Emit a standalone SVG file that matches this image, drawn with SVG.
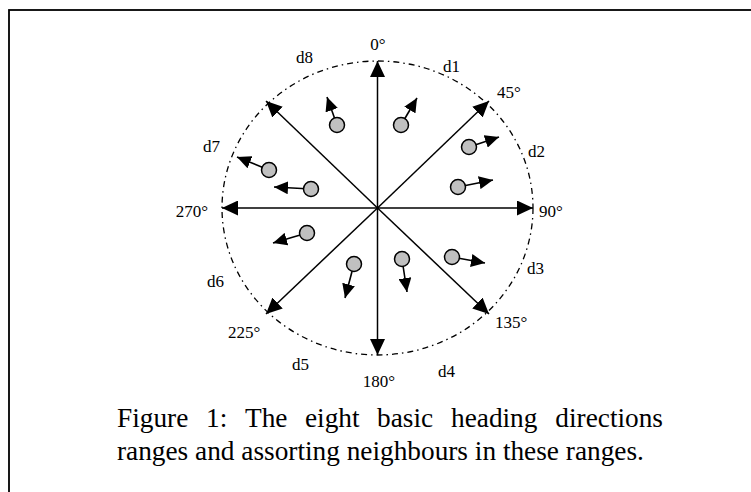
<svg xmlns="http://www.w3.org/2000/svg" width="751" height="492" viewBox="0 0 751 492">
<style>
.lbl{font-family:"Liberation Serif","Times New Roman",serif;font-size:17px;fill:#000}
.cap{font-family:"Liberation Serif","Times New Roman",serif;font-size:27.3px;fill:#000}
.axis{stroke:#000;stroke-width:1.5;fill:none;marker-end:url(#big)}
.mv{stroke:#000;stroke-width:1.6;fill:none;marker-end:url(#small)}
.nb{fill:#c0c0c0;stroke:#000;stroke-width:1.5}
</style>
<defs>
<marker id="big" markerUnits="userSpaceOnUse" viewBox="0 0 16 15" markerWidth="16" markerHeight="15" refX="16" refY="7.5" orient="auto">
<path d="M0,0 L16,7.5 L0,15 Z" fill="#000"/>
</marker>
<marker id="small" markerUnits="userSpaceOnUse" viewBox="0 0 14 13" markerWidth="14" markerHeight="13" refX="14" refY="6.5" orient="auto">
<path d="M0,0 L14,6.5 L0,13 Z" fill="#000"/>
</marker>
</defs>
<rect width="751" height="492" fill="#fff"/>
<rect id="frame" x="9" y="10" width="760" height="500" fill="none" stroke="#000" stroke-width="1.8"/>
<ellipse id="range-circle" cx="377.5" cy="208" rx="155.5" ry="147" fill="none" stroke="#000" stroke-width="1.3" stroke-dasharray="6 4 1.5 4"/>
<g id="connectors">
<line class="axis" x1="377.5" y1="208" x2="377.5" y2="61"/>
<line class="axis" x1="377.5" y1="208" x2="489" y2="101"/>
<line class="axis" x1="377.5" y1="208" x2="533" y2="208"/>
<line class="axis" x1="377.5" y1="208" x2="489" y2="314"/>
<line class="axis" x1="377.5" y1="208" x2="377.5" y2="355"/>
<line class="axis" x1="377.5" y1="208" x2="266" y2="314"/>
<line class="axis" x1="377.5" y1="208" x2="222" y2="208"/>
<line class="axis" x1="377.5" y1="208" x2="266" y2="101"/>
<line class="mv" x1="337" y1="125" x2="327" y2="97"/>
<line class="mv" x1="401" y1="125" x2="417" y2="98"/>
<line class="mv" x1="469" y1="147" x2="499" y2="137"/>
<line class="mv" x1="458" y1="187" x2="493" y2="180"/>
<line class="mv" x1="452" y1="257" x2="485" y2="263"/>
<line class="mv" x1="402" y1="259" x2="407" y2="292"/>
<line class="mv" x1="354" y1="264" x2="345" y2="298"/>
<line class="mv" x1="307" y1="233" x2="273" y2="243"/>
<line class="mv" x1="269" y1="170" x2="237" y2="157"/>
<line class="mv" x1="311" y1="189" x2="274" y2="187"/>
</g>
<g id="n-d8"><circle class="nb" cx="337" cy="125" r="7.5"/></g>
<g id="n-d1"><circle class="nb" cx="401" cy="125" r="7.5"/></g>
<g id="n-d2a"><circle class="nb" cx="469" cy="147" r="7.5"/></g>
<g id="n-d2b"><circle class="nb" cx="458" cy="187" r="7.5"/></g>
<g id="n-d3"><circle class="nb" cx="452" cy="257" r="7.5"/></g>
<g id="n-d4"><circle class="nb" cx="402" cy="259" r="7.5"/></g>
<g id="n-d5"><circle class="nb" cx="354" cy="264" r="7.5"/></g>
<g id="n-d6"><circle class="nb" cx="307" cy="233" r="7.5"/></g>
<g id="n-d7a"><circle class="nb" cx="269" cy="170" r="7.5"/></g>
<g id="n-d7b"><circle class="nb" cx="311" cy="189" r="7.5"/></g>
<g id="labels">
<text class="lbl" x="378" y="50" text-anchor="middle">0°</text>
<text class="lbl" x="497" y="98">45°</text>
<text class="lbl" x="539" y="217">90°</text>
<text class="lbl" x="495" y="328">135°</text>
<text class="lbl" x="379" y="387" text-anchor="middle">180°</text>
<text class="lbl" x="228" y="338">225°</text>
<text class="lbl" x="208" y="217" text-anchor="end">270°</text>
<text class="lbl" x="443" y="72">d1</text>
<text class="lbl" x="528" y="157">d2</text>
<text class="lbl" x="527" y="274">d3</text>
<text class="lbl" x="438" y="377">d4</text>
<text class="lbl" x="292" y="370">d5</text>
<text class="lbl" x="207" y="287">d6</text>
<text class="lbl" x="203" y="152">d7</text>
<text class="lbl" x="296" y="63">d8</text>
</g>
<g id="caption">
<text class="cap" y="427"><tspan x="117">Figure</tspan><tspan x="206">1:</tspan><tspan x="245">The</tspan><tspan x="305">eight</tspan><tspan x="377">basic</tspan><tspan x="451">heading</tspan><tspan x="663" text-anchor="end">directions</tspan></text>
<text class="cap" x="117" y="460">ranges and assorting neighbours in these ranges.</text>
</g>
</svg>
